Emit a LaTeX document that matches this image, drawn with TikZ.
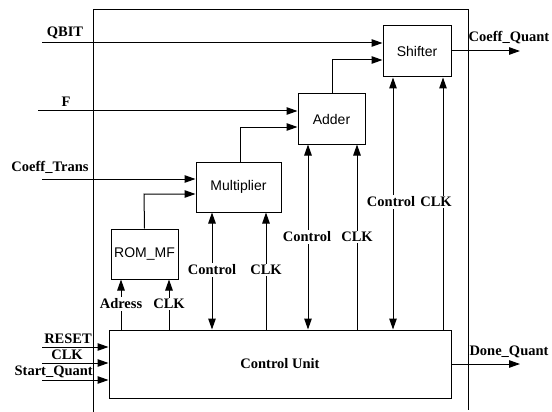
\documentclass[tikz,border=0pt]{standalone}
\usepackage{fontspec}
\setmainfont{Liberation Serif}
\setsansfont{Liberation Sans}
\usetikzlibrary{arrows.meta}
\begin{document}
\begin{tikzpicture}[x=1pt,y=-1pt,
  blk/.style={draw,line width=1pt,inner sep=0pt,font=\sffamily\fontsize{14}{16}\selectfont},
  lbl/.style={font=\bfseries\fontsize{14.5}{16}\selectfont,inner sep=1pt},
  wlbl/.style={lbl,fill=white,inner sep=1.5pt},
  tip/.tip={Triangle[length=11pt,width=7.5pt]},
  sig/.style={line width=1pt,-tip},
  dsig/.style={line width=1pt,tip-tip},
  wire/.style={line width=1pt}]
\useasboundingbox (0,0) rectangle (552,412);
% outer frame
\draw[line width=0.8pt] (93,412) -- (93,9) -- (468,9) -- (468,410);
% blocks
\node[blk,minimum width=68pt,minimum height=51pt] (sh) at (417,51.5) {Shifter};
\node[blk,minimum width=67pt,minimum height=50pt] (ad) at (331.5,119) {Adder};
\node[blk,minimum width=85pt,minimum height=50pt] (mu) at (238.5,187) {Multiplier};
\node[blk,minimum width=67pt,minimum height=50pt] (rom) at (144.5,254) {ROM\_MF};
\node[blk,minimum width=342pt,minimum height=68pt,font=\bfseries\fontsize{14.5}{16}\selectfont] (cu) at (280,364) {Control Unit};
% external inputs
\coordinate (qbit) at (42,43);
\coordinate (fin) at (38,111);
\coordinate (ctin) at (42,179);
\coordinate (rsin) at (42,347);
\coordinate (ckin) at (42,363);
\coordinate (stin) at (42,380);
\coordinate (cqout) at (520,51);
\coordinate (dqout) at (520,364);
\draw[sig] (qbit) -- (qbit -| sh.west);
\draw[sig] (fin) -- (fin -| ad.west);
\draw[sig] (ctin) -- (ctin -| mu.west);
\draw[sig] (rsin) -- (rsin -| cu.west);
\draw[sig] (ckin) -- (ckin -| cu.west);
\draw[sig] (stin) -- (stin -| cu.west);
\draw[sig] (sh.east |- cqout) -- (cqout);
\draw[sig] (cu.east |- dqout) -- (dqout);
% internal data paths
\draw[sig] (332,0 |- ad.north) -- (332,60) -- (sh.west |- 0,60);
\draw[sig] (240,0 |- mu.north) -- (240,127) -- (ad.west |- 0,127);
\draw[sig] (rom.north) -- (144,194) -- (mu.west |- 0,194);
% control/clock lines
\draw[sig] (121,0 |- cu.north) -- (121,0 |- rom.south);
\draw[sig] (169,0 |- cu.north) -- (169,0 |- rom.south);
\draw[dsig] (212,0 |- cu.north) -- (212,0 |- mu.south);
\draw[sig] (266,0 |- cu.north) -- (266,0 |- mu.south);
\draw[dsig] (308,0 |- cu.north) -- (308,0 |- ad.south);
\draw[sig] (357,0 |- cu.north) -- (357,0 |- ad.south);
\draw[dsig] (393,0 |- cu.north) -- (393,0 |- sh.south);
\draw[sig] (443,0 |- cu.north) -- (443,0 |- sh.south);
% labels on lines
\node[wlbl] (la1) at (121,304) {Adress};
\node[wlbl] (la2) at (169,304) {CLK};
\node[wlbl] (lm1) at (212,270) {Control};
\node[wlbl] (lm2) at (266,270) {CLK};
\node[wlbl] (lad1) at (307,237) {Control};
\node[wlbl] (lad2) at (357,237) {CLK};
\node[wlbl] (ls1) at (391,202) {Control};
\node[wlbl] (ls2) at (436,202) {CLK};
% external labels
\node[lbl] (lq) at (65,33) {QBIT};
\node[lbl] (lf) at (66,102) {F};
\node[lbl] (lct) at (50,167) {Coeff\_Trans};
\node[lbl,anchor=east] (lrs) at (93,339) {RESET};
\node[lbl] (lck) at (67,355) {CLK};
\node[lbl,anchor=east] (lst) at (94,372) {Start\_Quant};
\node[lbl] (lcq) at (509,38) {Coeff\_Quant};
\node[lbl] (ldq) at (509,352) {Done\_Quant};
\end{tikzpicture}
\end{document}
